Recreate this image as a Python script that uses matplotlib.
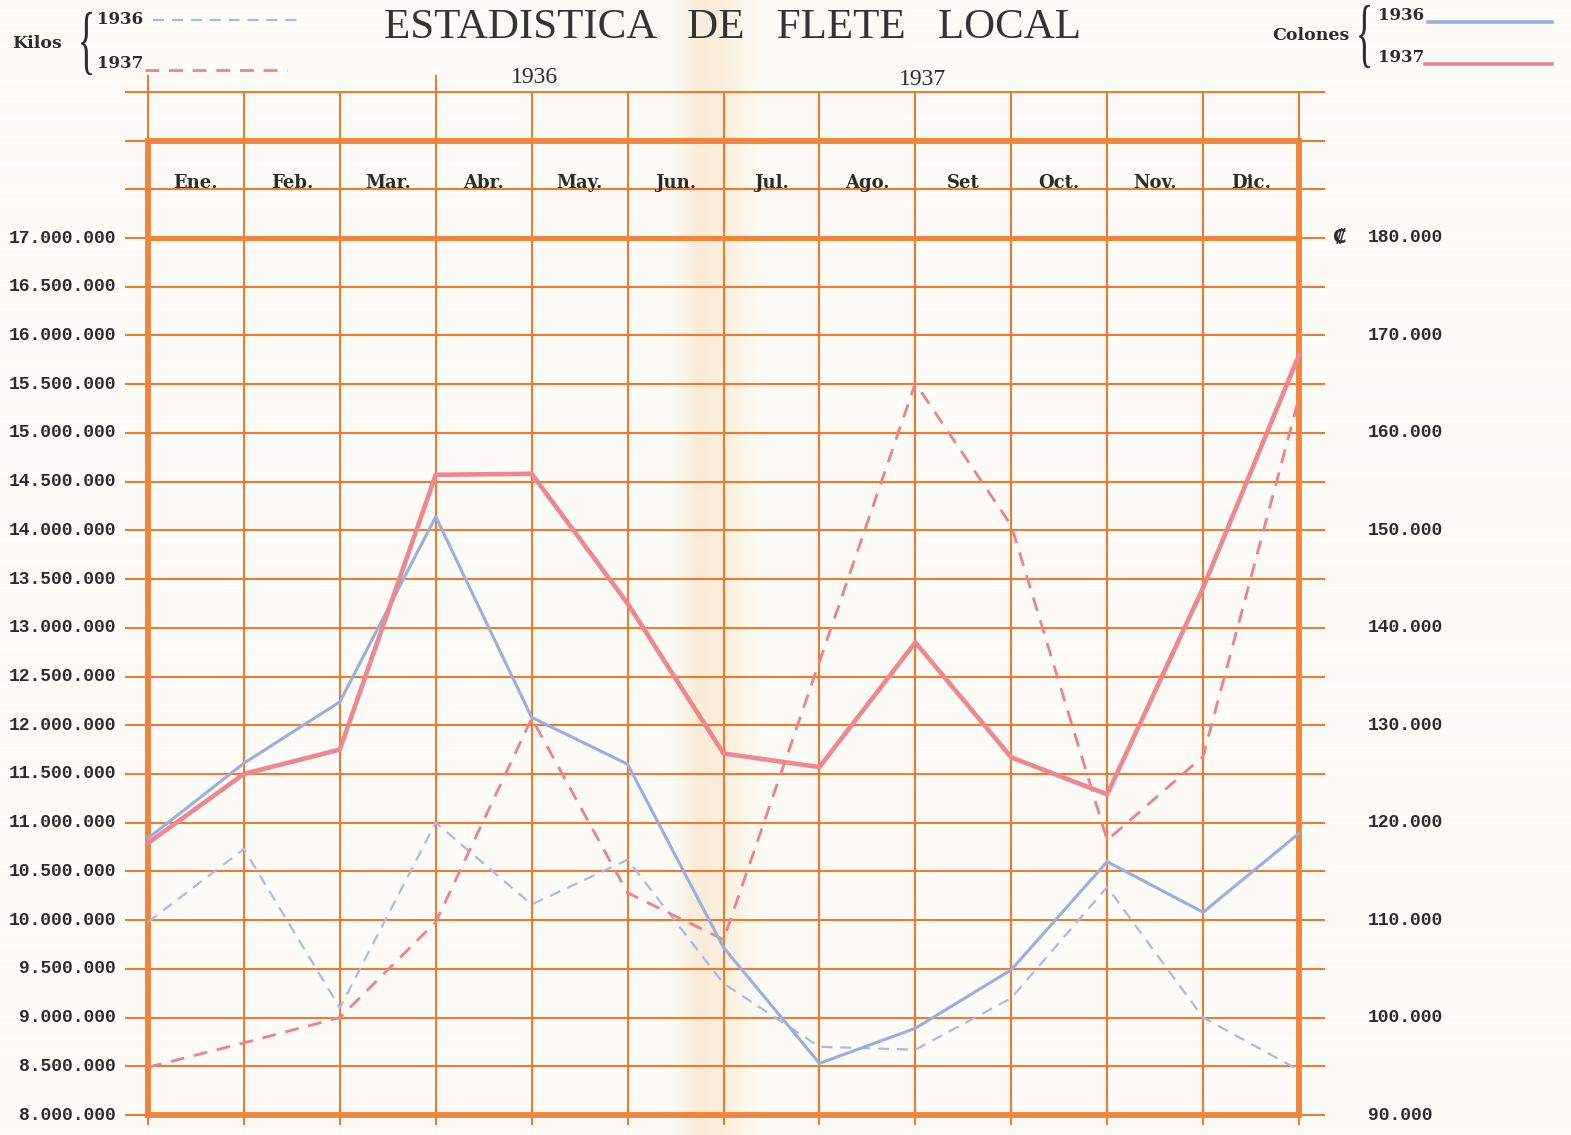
import matplotlib
matplotlib.use('Agg')
import matplotlib.pyplot as plt
from matplotlib.lines import Line2D
from matplotlib.textpath import TextPath
from matplotlib.patches import PathPatch
from matplotlib.font_manager import FontProperties
from matplotlib.transforms import Affine2D
import numpy as np

# ---------------- data ----------------
months = ['Ene.', 'Feb.', 'Mar.', 'Abr.', 'May.', 'Jun.', 'Jul.', 'Ago.', 'Set', 'Oct.', 'Nov.', 'Dic.']
years = ['1936', '1937']
kilos_1936 = [9_980_000, 10_730_000, 9_100_000, 11_000_000, 10_160_000, 10_620_000, 9_350_000,
              8_700_000, 8_670_000, 9_200_000, 10_340_000, 9_000_000, 8_460_000]
kilos_1937 = [8_490_000, 8_740_000, 9_000_000, 9_980_000, 12_070_000, 10_280_000, 9_800_000,
              12_650_000, 15_510_000, 14_050_000, 10_820_000, 11_680_000, 15_360_000]
colones_1936 = [118400, 126100, 132400, 151400, 130800, 126000, 107200,
                95300, 98900, 104900, 116000, 110800, 118900]
colones_1937 = [117900, 125000, 127500, 155700, 155800, 142500, 127100,
                125700, 138500, 126700, 122900, 144100, 168000]
kilos_ticks = list(range(8_000_000, 17_000_001, 500_000))
colones_ticks = list(range(90_000, 180_001, 10_000))

# ---------------- styling ----------------
W, H, DPI = 1571, 1135, 100
ORANGE = '#F27A2C'
ORANGE_THICK = '#F0843A'
BLUE_SOLID = '#97AFE2'
BLUE_DASH = '#AAB9EC'
RED_SOLID = '#F0868F'
RED_DASH = '#F2808A'
TXT = '#2B2B2B'
MONO = ['Liberation Mono', 'DejaVu Sans Mono', 'DejaVu Sans']
SERIF = ['DejaVu Serif']

fig = plt.figure(figsize=(W / DPI, H / DPI), dpi=DPI)
fig.patch.set_facecolor('#FDFCF7')

# paper background with the central fold tint
bg = fig.add_axes([0, 0, 1, 1], zorder=-10)
bg.set_axis_off()
xs = np.arange(W)
t = 0.5 * np.exp(-((xs - 715) / 32.0) ** 2) + 0.22 * np.exp(-((xs - 695) / 12.0) ** 2)
t = np.clip(t, 0, 1)
base = np.array([253, 252, 247]) / 255
fold = np.array([247, 226, 195]) / 255
row = base[None, :] * (1 - t[:, None]) + fold[None, :] * t[:, None]
bg.imshow(np.repeat(row[None, :, :], 4, axis=0), aspect='auto', extent=[0, 1, 0, 1])
bg.set_xlim(0, 1)
bg.set_ylim(0, 1)

# main axes: x 0..12 (13 monthly marks), y kilos 8M..18.5M (includes header rows)
X0, X1 = 148, 1299
Y17, Y8 = 238, 1115
ppm = (Y8 - Y17) / 9.0
top_px = Y17 - 1.5 * ppm
ax = fig.add_axes([X0 / W, 1 - Y8 / H, (X1 - X0) / W, (Y8 - top_px) / H])
ax.set_xlim(0, 12)
ax.set_ylim(8_000_000, 18_500_000)
ax.set_axis_off()

ax2 = ax.twinx()
ax2.set_ylim(90_000, 195_000)
ax2.set_axis_off()

pxu = (X1 - X0) / 12.0
ext_l = (125 - X0) / pxu
ext_r = 12 + (1325 - X1) / pxu

# grid
grid_levels = np.arange(8_000_000, 18_500_001, 500_000)
for yv in grid_levels:
    ax.plot([ext_l, ext_r], [yv, yv], color=ORANGE, lw=1.5, clip_on=False, zorder=1,
            solid_capstyle='butt')
for xv in range(13):
    ax.plot([xv, xv], [7_900_000, 18_500_000], color=ORANGE, lw=1.5, clip_on=False, zorder=1,
            solid_capstyle='butt')
for xv in (0, 3):
    ax.plot([xv, xv], [18_500_000, 18_660_000], color=ORANGE, lw=1.5, clip_on=False, zorder=1)
# thick frame
ax.plot([0, 12, 12, 0, 0], [8_000_000, 8_000_000, 18_000_000, 18_000_000, 8_000_000],
        color=ORANGE_THICK, lw=4.2, clip_on=False, zorder=2, solid_joinstyle='miter')
ax.plot([0, 12], [17_000_000, 17_000_000], color=ORANGE_THICK, lw=3.6, clip_on=False, zorder=2)

# data lines
x = np.arange(len(kilos_1936))
ax.plot(x, kilos_1936, color=BLUE_DASH, lw=1.6, dashes=(5, 3.5), zorder=3, clip_on=False)
ax.plot(x, kilos_1937, color=RED_DASH, lw=2.0, dashes=(5, 3.5), zorder=3, clip_on=False)
ax2.plot(x, colones_1936, color=BLUE_SOLID, lw=2.2, zorder=4, clip_on=False)
ax2.plot(x, colones_1937, color=RED_SOLID, lw=3.3, zorder=5, clip_on=False,
         solid_joinstyle='round')


def fmt(v):
    return f"{v:,}".replace(',', '.')


for v in kilos_ticks:
    ax.text((116 - X0) / pxu, v, fmt(v), ha='right', va='center', family=MONO,
            weight='bold', fontsize=13, color=TXT, clip_on=False)
for c in colones_ticks:
    ax2.text((1368 - X0) / pxu, c, fmt(c), ha='left', va='center', family=MONO,
             weight='bold', fontsize=13, color=TXT, clip_on=False)
ax2.text((1340 - X0) / pxu, colones_ticks[-1], '\u20a1', ha='center', va='center',
         family=['DejaVu Serif', 'DejaVu Sans'], weight='bold', fontsize=14, color=TXT,
         clip_on=False)

for i, m in enumerate(months):
    ax.text(i + 0.5, 17_560_000, m, ha='center', va='center', family=SERIF,
            weight='bold', fontsize=13, color=TXT)
ax.text(4.03, 18_650_000, years[0], ha='center', va='center', family='Liberation Serif',
        fontsize=17, color=TXT, clip_on=False)
ax.text(8.07, 18_630_000, years[1], ha='center', va='center', family='Liberation Serif',
        fontsize=17, color=TXT, clip_on=False)

# title (kept fully inside the figure, just below the top edge)
fig.text(733 / W, 1 - 38 / H, 'ESTADISTICA   DE   FLETE   LOCAL', ha='center', va='baseline',
         family='Liberation Serif', fontsize=31, color='#333333')


# legends
def fx(px):
    return px / W


def fy(py):
    return 1 - py / H


def brace(x0, y0, x1, y1):
    tp = TextPath((0, 0), '{', size=100, prop=FontProperties(family='Liberation Serif'))
    bb = tp.get_extents()
    tr = (Affine2D().translate(-bb.x0, -bb.y0)
          .scale((x1 - x0) / bb.width, (y1 - y0) / bb.height)
          .translate(x0, H - y1).scale(1 / W, 1 / H))
    p = PathPatch(tr.transform_path(tp), transform=fig.transFigure, facecolor=TXT,
                  edgecolor='none')
    fig.add_artist(p)


LEG = dict(family=SERIF, weight='bold', color=TXT)
fig.text(fx(12), fy(43), 'Kilos', ha='left', va='center', fontsize=12.5, **LEG)
brace(81, 12, 92, 75)
fig.text(fx(97), fy(20), years[0], ha='left', va='center', fontsize=12, **LEG)
fig.text(fx(97), fy(63), years[1], ha='left', va='center', fontsize=12, **LEG)
fig.add_artist(Line2D([fx(153), fx(298)], [fy(20), fy(20)], transform=fig.transFigure,
                      color=BLUE_DASH, lw=1.6, dashes=(5, 3.5)))
fig.add_artist(Line2D([fx(145), fx(287)], [fy(70), fy(70)], transform=fig.transFigure,
                      color=RED_DASH, lw=2.0, dashes=(5, 3.5)))

fig.text(fx(1272), fy(35), 'Colones', ha='left', va='center', fontsize=12.5, **LEG)
brace(1359, 5, 1370, 68)
fig.text(fx(1378), fy(16), years[0], ha='left', va='center', fontsize=12, **LEG)
fig.text(fx(1378), fy(58), years[1], ha='left', va='center', fontsize=12, **LEG)
fig.add_artist(Line2D([fx(1428), fx(1552)], [fy(22), fy(22)], transform=fig.transFigure,
                      color=BLUE_SOLID, lw=2.6))
fig.add_artist(Line2D([fx(1425), fx(1552)], [fy(64), fy(64)], transform=fig.transFigure,
                      color=RED_SOLID, lw=2.6))

fig.savefig('out.png', dpi=DPI, facecolor=fig.get_facecolor())
